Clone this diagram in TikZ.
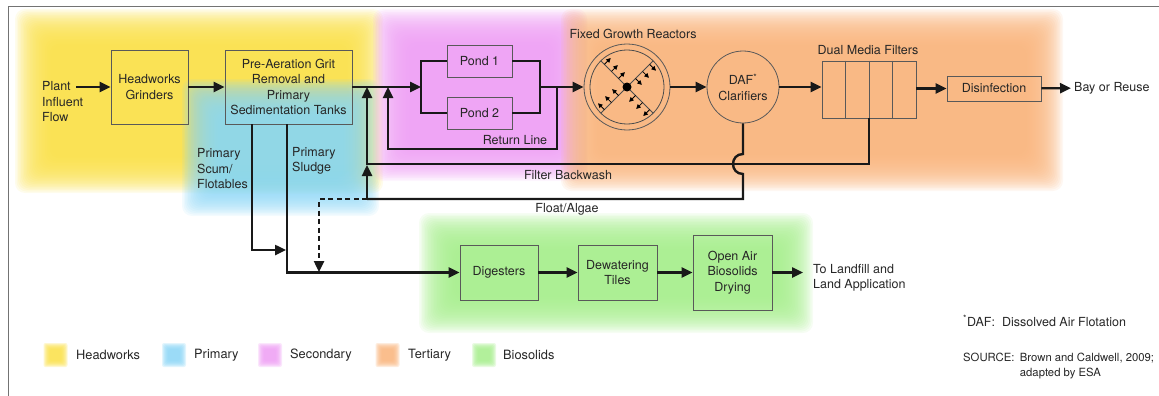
\documentclass[tikz,border=0pt]{standalone}
\usepackage{fontspec}
\setmainfont{TeX Gyre Heros}
\usetikzlibrary{arrows.meta,calc,positioning}

\definecolor{headworks}{RGB}{250,224,72}
\definecolor{primaryc}{RGB}{140,214,246}
\definecolor{secondary}{RGB}{238,158,244}
\definecolor{tertiary}{RGB}{249,180,124}
\definecolor{biosolids}{RGB}{166,238,140}

\newcommand{\labelsize}{\fontsize{12.5}{15.5}\selectfont}
\newcommand{\keysize}{\fontsize{12.8}{15}\selectfont}
\newcommand{\sourcesize}{\fontsize{11.3}{15}\selectfont}

% soft coloured zone: colour, x1, y1, x2, y2 (edges at about half strength)
\newcommand{\softzone}[5]{%
  \foreach \s in {0,1.5,...,36}
    \fill[#1, opacity=0.1, rounded corners=10pt] ({#2-13+\s},{#3-13+\s}) rectangle ({#4+13-\s},{#5+13-\s});}
% soft legend square: colour, x, y (centre)
\newcommand{\legendkey}[3]{%
  \foreach \s in {0,1,...,6}
    \fill[#1, opacity=0.25, rounded corners=2pt] ({#2-12+\s},{#3-12+\s}) rectangle ({#2+12-\s},{#3+12-\s});}

\begin{document}
\begin{tikzpicture}[x=1pt, y=-1pt,
  unit/.style={draw=black!65, line width=0.8pt, align=center, font=\labelsize, text=black!85, inner sep=1pt},
  lbl/.style={font=\labelsize, text=black!85, align=left, inner sep=0pt},
  pipe/.style={line width=2.4pt, black!90},
  flow/.style={pipe, -{Triangle[length=11pt,width=10pt]}},
  small flow/.style={line width=0.8pt, -{Triangle[length=4.5pt,width=4.5pt]}}]
\useasboundingbox (0,0) rectangle (1159,396);

% treatment zones
\softzone{headworks}{28}{22}{370}{180}
\softzone{primaryc}{195}{92}{366}{203}
\softzone{secondary}{386}{22}{574}{168}
\softzone{tertiary}{574}{22}{1050}{178}
\softzone{biosolids}{432}{226}{800}{320}

% frame
\draw[black!55, line width=0.8pt] (8,396) -- (8,6) -- (1159,6);

% process units
\node[lbl, anchor=west] (influent) at (42,102) {Plant\\Influent\\Flow};
\node[unit, minimum width=77pt, minimum height=74pt] (grinders) at (149.5,87) {Headworks\\Grinders};
\node[unit, minimum width=127pt, minimum height=74pt] (pretreat) at (288.5,87) {Pre-Aeration Grit\\Removal and\\Primary\\Sedimentation Tanks};
\node[unit, minimum width=65pt, minimum height=32pt] (pond1) at (479.5,61) {Pond 1};
\node[unit, minimum width=65pt, minimum height=32pt] (pond2) at (479.5,113) {Pond 2};
\node[unit, circle, minimum size=86pt] (reactor) at (627,87) {};
\node[unit, circle, minimum size=72pt, inner sep=0pt] (daf) at (743,87) {DAF\textsuperscript{*}\\Clarifiers};
\node[unit, minimum width=94pt, minimum height=57pt] (filters) at (869,89.5) {};
\node[unit, minimum width=94pt, minimum height=25pt] (disinfect) at (994,88.5) {Disinfection};
\node[lbl, anchor=west] (reuse) at (1074,88) {Bay or Reuse};
\node[unit, minimum width=78pt, minimum height=55pt] (digesters) at (499,272.5) {Digesters};
\node[unit, minimum width=79pt, minimum height=55pt] (dewatering) at (617.5,272.5) {Dewatering\\Tiles};
\node[unit, minimum width=79pt, minimum height=75pt] (drying) at (732.5,272.5) {Open Air\\Biosolids\\Drying};
\node[lbl, anchor=west] (landfill) at (813,278) {To Landfill and\\Land Application};

% reactor and filter details
\draw[black!70, line width=0.8pt] (reactor.center) circle[radius=37pt];
\foreach \a in {45,135,225,315} {
  \draw[black!70, line width=0.8pt] (reactor.center) -- ++(\a:37pt);
  \foreach \d in {12,22,32}
    \draw[small flow] ($(reactor.center)+(\a:\d pt)$) -- ++(\a-90:9pt);
}
\fill (reactor.center) circle[radius=4.5pt];
\foreach \i in {1,2,3}
  \draw[black!65, line width=0.8pt] ($(filters.north west)!\i/4!(filters.north east)$) -- ($(filters.south west)!\i/4!(filters.south east)$);

% labels
\node[lbl] (reactorlbl) at (633,34) {Fixed Growth Reactors};
\node[lbl] (filterlbl) at (868,50) {Dual Media Filters};
\node[lbl] (returnlbl) at (515,140) {Return Line};
\node[lbl] (backwashlbl) at (568,175) {Filter Backwash};
\node[lbl] (floatlbl) at (567,209) {Float/Algae};
\node[lbl, anchor=west] (scumlbl) at (197,169) {Primary\\Scum/\\Flotables};
\node[lbl, anchor=west] (sludgelbl) at (292,161) {Primary\\Sludge};

% junction points
\coordinate (inflowend) at (76,87);
\coordinate (split) at (421,87);
\coordinate (merge) at (540,87);
\coordinate (returntap) at (557,87);
\coordinate (returnin) at (388,87);
\coordinate (backwashin) at (367,87);
\coordinate (backwash) at (367,164);
\coordinate (float) at (367,199);
\coordinate (hoptop) at (743,154);
\coordinate (hopbot) at (743,174);
\coordinate (scumin) at (286,250);
\coordinate (dashin) at (319,272);
\coordinate (landout) at (803,272.5);

% flows
\draw[flow] (inflowend) -- (grinders);
\draw[flow] (grinders) -- (pretreat);
\draw[flow] (pretreat.east) -- (split);
\draw[pipe] (pond1.west) -| (split) |- (pond2.west);
\draw[pipe] (pond1.east) -| (merge) |- (pond2.east);
\draw[flow] (merge) -- (reactor);
\draw[flow] (returntap) -- ++(0,62) -| (returnin);
\draw[flow] (reactor) -- (daf);
\draw[flow] (daf.east) -- (daf.east -| filters.west);
\draw[flow] (filters.east |- disinfect) -- (disinfect);
\draw[flow, shorten >=3pt] (disinfect) -- (reuse);
\draw[flow] (filters.south) |- (backwash) -- (backwashin);
\draw[pipe] (daf.south) -- (hoptop) .. controls (729.7,154) and (729.7,174) .. (hopbot) |- (float);
\draw[flow, shorten >=1pt] (float) -- (backwash);
\draw[flow, dash pattern=on 5pt off 3.5pt] (float) -| (dashin);
\draw[flow] ([xshift=-36.5pt]pretreat.south) |- (scumin);
\draw[flow] ([xshift=-1.5pt]pretreat.south) |- (digesters.west);
\draw[flow] (digesters) -- (dewatering);
\draw[flow] (dewatering) -- (drying);
\draw[flow] (drying) -- (landout);

% legend
\foreach \c/\kx/\tx/\name in {headworks/55.5/76/Headworks, primaryc/174/194/Primary,
    secondary/270/290/Secondary, tertiary/387.5/408/Tertiary, biosolids/484/503/Biosolids} {
  \legendkey{\c}{\kx}{355}
  \node[lbl, font=\keysize, anchor=west] (key-\c) at (\tx,355) {\name};
}

% notes
\node[lbl, anchor=west] (dafnote) at (963,321) {\textsuperscript{*}DAF:\ \ Dissolved Air Flotation};
\node[lbl, font=\sourcesize, anchor=west] (source) at (963,357) {SOURCE:};
\node[lbl, font=\sourcesize, anchor=north west] (sourceref) at ([xshift=5pt]source.north east) {Brown and Caldwell, 2009;\\adapted by ESA};
\end{tikzpicture}
\end{document}
